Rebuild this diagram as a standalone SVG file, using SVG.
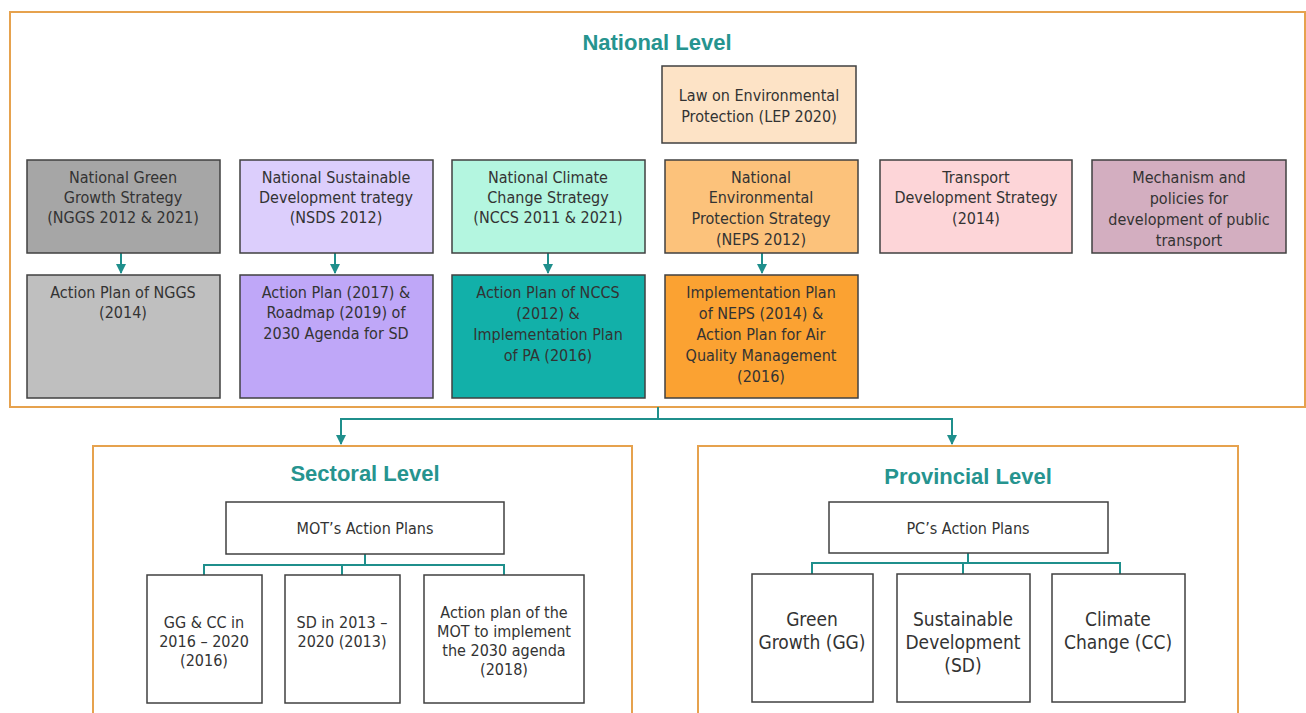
<svg xmlns="http://www.w3.org/2000/svg" width="1306" height="713" viewBox="0 0 1306 713">
<defs>
<style>
text{font-family:"DejaVu Sans Condensed","Liberation Sans",sans-serif;fill:#333;text-anchor:middle;font-size:16px}
.frame{fill:#fff;stroke:#e6a24e;stroke-width:2}
.box{stroke:#404040;stroke-width:1.5}
.title{font-family:"Liberation Sans","DejaVu Sans",sans-serif;font-size:22px;font-weight:bold;fill:#26948f}
.conn{fill:none;stroke:#1f8f8c;stroke-width:2}
.big{font-size:19px}
</style>
<marker id="ah" viewBox="0 0 10 10" refX="9" refY="5" markerWidth="5" markerHeight="5" orient="auto"><path d="M0,0 L10,5 L0,10 z" fill="#1f8f8c"/></marker>
</defs>
<rect width="1306" height="713" fill="#fff"/>
<g id="national-frame"><rect class="frame" x="10" y="12" width="1295" height="395"/><text class="title" x="657" y="50">National Level</text></g>
<g id="sectoral-frame"><rect class="frame" x="93" y="446" width="539" height="280"/><text class="title" x="365" y="481">Sectoral Level</text></g>
<g id="provincial-frame"><rect class="frame" x="698" y="446" width="540" height="280"/><text class="title" x="968" y="484">Provincial Level</text></g>

<g id="connectors">
<path class="conn" d="M121,253 V273" marker-end="url(#ah)"/>
<path class="conn" d="M335,253 V273" marker-end="url(#ah)"/>
<path class="conn" d="M548,253 V273" marker-end="url(#ah)"/>
<path class="conn" d="M762,253 V273" marker-end="url(#ah)"/>
<path class="conn" d="M658,407 V419 H341 V444" marker-end="url(#ah)"/>
<path class="conn" d="M658,419 H952 V444" marker-end="url(#ah)"/>
<path class="conn" d="M365,554 V565 M204,575 V565 H504 V575 M342,565 V575"/>
<path class="conn" d="M968,553 V563 M812,574 V563 H1120 V574 M963,563 V574"/>
</g>

<g id="lep"><rect class="box" x="662" y="66" width="194" height="77" fill="#fde3c6"/><text x="759" y="101">Law on Environmental</text><text x="759" y="122">Protection (LEP 2020)</text></g>
<g id="nggs"><rect class="box" x="27" y="160" width="193" height="93" fill="#a6a6a6"/><text x="123" y="183">National Green</text><text x="123" y="203">Growth Strategy</text><text x="123" y="223">(NGGS 2012 &amp; 2021)</text></g>
<g id="nsds"><rect class="box" x="240" y="160" width="193" height="93" fill="#dccefc"/><text x="336" y="183">National Sustainable</text><text x="336" y="203">Development trategy</text><text x="336" y="223">(NSDS 2012)</text></g>
<g id="nccs"><rect class="box" x="452" y="160" width="193" height="93" fill="#b4f6e0"/><text x="548" y="183">National Climate</text><text x="548" y="203">Change Strategy</text><text x="548" y="223">(NCCS 2011 &amp; 2021)</text></g>
<g id="neps"><rect class="box" x="665" y="160" width="193" height="93" fill="#fcc27b"/><text x="761" y="183">National</text><text x="761" y="203">Environmental</text><text x="761" y="224">Protection Strategy</text><text x="761" y="245">(NEPS 2012)</text></g>
<g id="tds"><rect class="box" x="880" y="160" width="192" height="93" fill="#fdd5d8"/><text x="976" y="183">Transport</text><text x="976" y="203">Development Strategy</text><text x="976" y="224">(2014)</text></g>
<g id="mech"><rect class="box" x="1092" y="160" width="194" height="93" fill="#d3aec0"/><text x="1189" y="183">Mechanism and</text><text x="1189" y="204">policies for</text><text x="1189" y="225">development of public</text><text x="1189" y="246">transport</text></g>

<g id="ap-nggs"><rect class="box" x="27" y="275" width="193" height="123" fill="#bfbfbf"/><text x="123" y="298">Action Plan of NGGS</text><text x="123" y="318">(2014)</text></g>
<g id="ap-nsds"><rect class="box" x="240" y="275" width="193" height="123" fill="#bfa7f8"/><text x="336" y="298">Action Plan (2017) &amp;</text><text x="336" y="318">Roadmap (2019) of</text><text x="336" y="339">2030 Agenda for SD</text></g>
<g id="ap-nccs"><rect class="box" x="452" y="275" width="193" height="123" fill="#12b0a9"/><text x="548" y="298">Action Plan of NCCS</text><text x="548" y="319">(2012) &amp;</text><text x="548" y="340">Implementation Plan</text><text x="548" y="361">of PA (2016)</text></g>
<g id="ip-neps"><rect class="box" x="665" y="275" width="193" height="123" fill="#fba232"/><text x="761" y="298">Implementation Plan</text><text x="761" y="319">of NEPS (2014) &amp;</text><text x="761" y="340">Action Plan for Air</text><text x="761" y="361">Quality Management</text><text x="761" y="382">(2016)</text></g>

<g id="mot"><rect class="box" x="226" y="502" width="278" height="52" fill="#fff"/><text x="365" y="534">MOT’s Action Plans</text></g>
<g id="ggcc"><rect class="box" x="147" y="575" width="115" height="128" fill="#fff"/><text x="204" y="628">GG &amp; CC in</text><text x="204" y="647">2016 – 2020</text><text x="204" y="666">(2016)</text></g>
<g id="sd13"><rect class="box" x="285" y="575" width="115" height="128" fill="#fff"/><text x="342" y="628">SD in 2013 –</text><text x="342" y="647">2020 (2013)</text></g>
<g id="mot2030"><rect class="box" x="424" y="575" width="160" height="128" fill="#fff"/><text x="504" y="618">Action plan of the</text><text x="504" y="637">MOT to implement</text><text x="504" y="656">the 2030 agenda</text><text x="504" y="675">(2018)</text></g>

<g id="pc"><rect class="box" x="829" y="502" width="279" height="51" fill="#fff"/><text x="968" y="534">PC’s Action Plans</text></g>
<g id="gg"><rect class="box" x="752" y="574" width="121" height="128" fill="#fff"/><text class="big" x="812" y="626">Green</text><text class="big" x="812" y="649">Growth (GG)</text></g>
<g id="sd"><rect class="box" x="897" y="574" width="133" height="128" fill="#fff"/><text class="big" x="963" y="626">Sustainable</text><text class="big" x="963" y="649">Development</text><text class="big" x="963" y="672">(SD)</text></g>
<g id="cc"><rect class="box" x="1052" y="574" width="133" height="128" fill="#fff"/><text class="big" x="1118" y="626">Climate</text><text class="big" x="1118" y="649">Change (CC)</text></g>
</svg>
